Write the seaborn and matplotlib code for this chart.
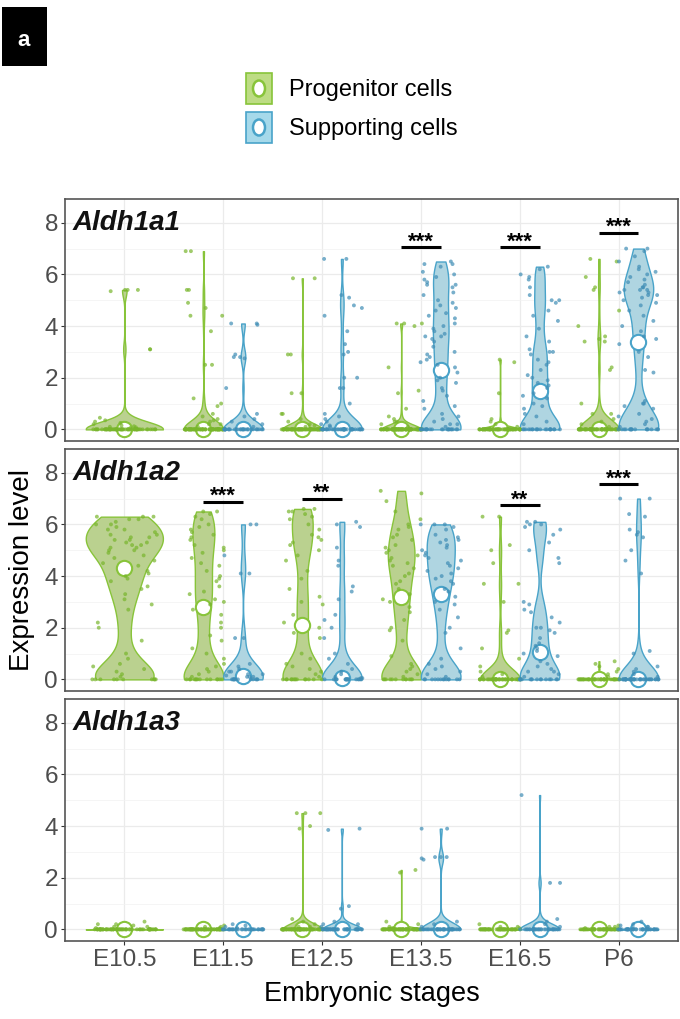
import numpy as np
import pandas as pd
import matplotlib.pyplot as plt
from matplotlib.patches import Rectangle, Ellipse
import seaborn as sns

sns.set_style("white")
plt.rcParams["font.family"] = ["Liberation Sans", "DejaVu Sans"]
plt.rcParams["text.color"] = "black"

stages = ["E10.5", "E11.5", "E12.5", "E13.5", "E16.5", "P6"]
genes = ["Aldh1a1", "Aldh1a2", "Aldh1a3"]
cells = ["Progenitor cells", "Supporting cells"]

# non-zero expression values per stage; zeros kept as counts
a1_prog = {
    "E10.5": [5.4, 5.4, 5.35, 5.4, 3.1, 3.1, 0.45, 0.35, 0.3, 0.25, 0.2, 0.15, 0.12, 0.1, 0.08, 0.05],
    "E11.5": [6.9, 6.9, 5.4, 5.4, 4.9, 4.7, 4.4, 4.4, 3.8, 2.5, 2.5, 1.2, 1.0, 0.9, 0.6, 0.5, 0.4, 0.35, 0.3, 0.2, 0.2, 0.1],
    "E12.5": [5.85, 5.85, 2.9, 2.9, 1.4, 1.4, 0.6, 0.6, 0.4, 0.3, 0.2, 0.15, 0.1],
    "E13.5": [4.1, 4.1, 4.0, 4.1, 2.4, 1.5, 1.4, 0.8, 0.5, 0.4, 0.3, 0.3, 0.2, 0.1],
    "E16.5": [2.7, 2.6, 1.4, 0.4, 0.3, 0.2, 0.1],
    "P6": [6.6, 6.5, 5.9, 5.5, 5.4, 4.6, 4.0, 3.6, 3.5, 3.4, 3.4, 2.4, 2.3, 1.0, 0.6, 0.6, 0.4, 0.3, 0.2, 0.1],
}
a1_prog_zeros = [60, 70, 70, 80, 60, 60]

a1_supp = {
    "E11.5": [4.1, 4.1, 4.05, 2.9, 2.8, 2.8, 2.75, 1.6, 0.6, 0.5, 0.4, 0.3, 0.2, 0.1],
    "E12.5": [6.6, 6.6, 5.2, 5.1, 4.8, 4.7, 4.4, 3.8, 3.3, 3.0, 2.9, 2.0, 2.0, 1.6, 1.6, 1.0, 0.6, 0.5, 0.4, 0.3, 0.2, 0.15, 0.1],
    "E13.5": [6.5, 6.4, 6.4, 6.3, 6.1, 6.0, 5.9, 5.8, 5.7, 5.6, 5.6, 5.5, 5.3, 5.2, 5.0, 4.9, 4.8, 4.7, 4.6, 4.5,
              4.4, 4.3, 4.1, 4.0, 3.9, 3.8, 3.7, 3.6, 3.6, 3.5, 3.4, 3.2, 3.0, 2.9, 2.8, 2.7, 2.6, 2.5, 2.4,
              2.2, 2.0, 1.9, 1.8, 1.6, 1.5, 1.3, 1.1, 0.9, 0.8, 0.6, 0.5, 0.4, 0.3, 0.2, 0.2, 0.1],
    "E16.5": [6.3, 6.2, 6.0, 5.9, 5.8, 5.5, 5.2, 5.0, 5.0, 4.9, 4.6, 4.4, 4.2, 3.9, 3.6, 3.4, 3.1, 3.0, 3.0, 2.9,
              2.7, 2.6, 2.5, 2.3, 2.1, 2.0, 1.9, 1.8, 1.7, 1.6, 1.4, 1.3, 1.2, 1.0, 0.9, 0.8, 0.6, 0.5, 0.3, 0.2],
    "P6": [7.0, 7.0, 6.9, 6.7, 6.5, 6.3, 6.2, 6.1, 6.0, 5.9, 5.8, 5.7, 5.6, 5.5, 5.5, 5.4, 5.4, 5.4, 5.3, 5.3,
           5.2, 5.2, 5.1, 5.0, 4.9, 4.8, 4.6, 4.4, 4.2, 4.0, 3.8, 3.6, 3.5, 3.3, 3.0, 2.8, 2.3, 2.2, 1.1, 1.0,
           1.0, 0.9, 0.8, 0.6, 0.5, 0.4, 0.3, 0.2, 0.1],
}
a1_supp_zeros = [0, 30, 40, 22, 20, 17]

a2_prog = {
    "E10.5": [6.3, 6.3, 6.3, 6.2, 6.2, 6.1, 6.0, 6.0, 5.9, 5.8, 5.8, 5.7, 5.6, 5.6, 5.5, 5.5, 5.4, 5.4, 5.3, 5.3,
              5.2, 5.2, 5.1, 5.1, 5.0, 5.0, 4.9, 4.8, 4.7, 4.6, 4.5, 4.4, 4.2, 4.1, 4.0, 3.9, 3.8, 3.6, 3.5, 3.3,
              3.1, 2.9, 2.7, 2.2, 2.0, 1.5, 1.0, 0.8, 0.6, 0.5, 0.4, 0.3, 0.2, 0.1],
    "E11.5": [6.5, 6.5, 6.4, 6.3, 6.2, 6.0, 5.9, 5.8, 5.7, 5.6, 5.5, 5.4, 5.2, 5.1, 5.0, 4.9, 4.7, 4.5, 4.4, 4.2,
              4.0, 3.9, 3.8, 3.6, 3.4, 3.3, 3.1, 3.0, 2.9, 2.7, 2.5, 2.2, 2.0, 1.7, 1.5, 1.2, 1.0, 0.8, 0.6, 0.5,
              0.4, 0.3, 0.2, 0.1],
    "E12.5": [6.6, 6.6, 6.5, 6.5, 6.4, 6.3, 6.2, 6.0, 5.8, 5.6, 5.5, 5.4, 5.3, 5.2, 5.0, 4.8, 4.6, 4.2, 3.9, 3.5,
              3.2, 3.0, 2.9, 2.5, 2.2, 2.0, 1.8, 1.6, 1.0, 0.8, 0.6, 0.5, 0.4, 0.3, 0.2, 0.1],
    "E13.5": [7.3, 7.2, 6.9, 6.5, 6.2, 6.0, 5.9, 5.8, 5.6, 5.5, 5.4, 5.2, 5.1, 5.0, 4.9, 4.8, 4.7, 4.6, 4.5, 4.4,
              4.3, 4.1, 4.0, 3.8, 3.7, 3.5, 3.3, 3.1, 3.0, 2.8, 2.6, 2.3, 2.0, 1.9, 1.5, 0.9, 0.6, 0.5, 0.4, 0.3,
              0.2, 0.1],
    "E16.5": [6.3, 6.3, 5.2, 5.0, 4.5, 3.7, 3.7, 3.0, 1.9, 1.8, 1.2, 0.8, 0.5, 0.3, 0.2, 0.1],
    "P6": [0.7, 0.6, 0.5, 0.4, 0.3, 0.2, 0.1],
}
a2_prog_zeros = [10, 14, 14, 12, 40, 40]

a2_supp = {
    "E11.5": [6.0, 6.0, 4.8, 4.1, 4.1, 1.6, 1.6, 0.6, 0.5, 0.4, 0.3, 0.3, 0.2, 0.2, 0.15, 0.1, 0.1, 0.1],
    "E12.5": [6.1, 6.0, 5.9, 5.1, 4.6, 4.4, 3.6, 3.4, 3.1, 2.5, 2.3, 2.0, 1.6, 1.0, 0.8, 0.6, 0.4, 0.3, 0.2, 0.1,
              0.05, 0.05],
    "E13.5": [6.0, 6.0, 6.0, 5.9, 5.8, 5.6, 5.5, 5.4, 5.4, 5.3, 5.2, 5.1, 5.0, 4.9, 4.8, 4.7, 4.6, 4.5, 4.4, 4.3,
              4.2, 4.1, 4.0, 3.9, 3.8, 3.7, 3.5, 3.4, 3.2, 3.0, 2.9, 2.7, 2.4, 2.0, 1.8, 1.2, 0.8, 0.6, 0.5, 0.4,
              0.3, 0.2, 0.1],
    "E16.5": [6.1, 6.1, 6.0, 6.0, 5.9, 5.8, 5.6, 5.3, 5.0, 4.7, 4.5, 3.0, 2.9, 2.7, 2.6, 2.4, 2.2, 2.0, 2.0, 1.9,
              1.8, 1.6, 1.4, 1.3, 1.2, 1.1, 1.0, 0.9, 0.7, 0.6, 0.5, 0.4, 0.3, 0.3, 0.2, 0.1],
    "P6": [7.0, 7.0, 6.4, 6.3, 5.8, 5.7, 5.6, 5.5, 5.0, 4.6, 4.1, 1.1, 1.0, 0.5, 0.4, 0.3, 0.2, 0.1],
}
a2_supp_zeros = [0, 12, 19, 13, 16, 40]

a3_prog = {
    "E10.5": [0.3, 0.2, 0.2, 0.15, 0.1, 0.1, 0.05],
    "E11.5": [0.15, 0.1, 0.1, 0.05],
    "E12.5": [4.5, 4.5, 4.5, 4.0, 3.9, 0.4, 0.3, 0.2, 0.1, 0.1],
    "E13.5": [2.3, 2.2, 0.3, 0.2, 0.1],
    "E16.5": [0.2, 0.1, 0.1, 0.05],
    "P6": [0.15, 0.1, 0.1, 0.05],
}
a3_prog_zeros = [60, 60, 70, 60, 50, 50]

a3_supp = {
    "E11.5": [0.2, 0.15, 0.1, 0.05],
    "E12.5": [3.9, 3.85, 0.9, 0.8, 0.3, 0.2, 0.2, 0.1],
    "E13.5": [3.9, 3.9, 2.8, 2.8, 2.75, 2.7, 2.8, 0.3, 0.2, 0.1],
    "E16.5": [5.2, 1.8, 1.8, 0.4, 0.3, 0.2, 0.1],
    "P6": [0.3, 0.2, 0.15, 0.1, 0.1, 0.05],
}
a3_supp_zeros = [0, 30, 40, 40, 35, 35]

# significance brackets
a1_sig_stages = ["E13.5", "E16.5", "P6"]
a1_sig_y = [7.07, 7.07, 7.62]
a1_sig_text = ["***", "***", "***"]
a2_sig_stages = ["E11.5", "E12.5", "E16.5", "P6"]
a2_sig_y = [6.88, 7.0, 6.75, 7.57]
a2_sig_text = ["***", "**", "**", "***"]

fills = {"Progenitor cells": "#bddc84", "Supporting cells": "#a6d9ea"}
edges = {"Progenitor cells": "#88c43a", "Supporting cells": "#49a3c9"}
dots = {"Progenitor cells": "#78b52c", "Supporting cells": "#3f8db5"}

rows = []
gene_sets = [("Aldh1a1", a1_prog, a1_prog_zeros, a1_supp, a1_supp_zeros),
             ("Aldh1a2", a2_prog, a2_prog_zeros, a2_supp, a2_supp_zeros),
             ("Aldh1a3", a3_prog, a3_prog_zeros, a3_supp, a3_supp_zeros)]
for gene, prog, pz, supp, sz in gene_sets:
    for i, st in enumerate(stages):
        for cell, vals, zs in [(cells[0], prog, pz), (cells[1], supp, sz)]:
            if st not in vals:
                continue
            for v in vals[st] + [0.0] * zs[i]:
                rows.append((gene, st, cell, v))
df = pd.DataFrame(rows, columns=["gene", "stage", "cell", "expr"])

np.random.seed(3)
fig = plt.figure(figsize=(6.8, 10.19), dpi=100)
axes = []
for k in range(3):
    top = 199 + 250 * k
    axes.append(fig.add_axes([65 / 680, 1 - (top + 242) / 1019, 613 / 680, 242 / 1019]))

vkw = dict(x="stage", y="expr", hue="cell", order=stages, hue_order=cells, palette=fills,
           cut=0, density_norm="width", inner=None, linewidth=1.0, bw_adjust=0.5, legend=False)
skw = dict(x="stage", y="expr", hue="cell", order=stages, hue_order=cells, palette=dots,
           size=2.8, alpha=0.7, linewidth=0, legend=False)
pkw = dict(x="stage", y="expr", hue="cell", order=stages, hue_order=cells, palette=edges,
           estimator="median", errorbar=None, markers="o", linestyles="none", markersize=11,
           markeredgewidth=1.5, markerfacecolor="white", legend=False)

for ax, gene in zip(axes, genes):
    d = df[df.gene == gene]
    first = d[d.stage == "E10.5"]
    rest = d[d.stage != "E10.5"]
    sns.violinplot(data=first, dodge=False, width=0.78, linecolor=edges[cells[0]], ax=ax, **vkw)
    for c in cells:
        sns.violinplot(data=rest[rest.cell == c], dodge=True, width=0.8, linecolor=edges[c], ax=ax, **vkw)
    sns.stripplot(data=first, dodge=False, jitter=0.33, ax=ax, **skw)
    sns.stripplot(data=rest, dodge=True, jitter=0.42, ax=ax, **skw)
    sns.pointplot(data=first, dodge=False, ax=ax, **pkw)
    sns.pointplot(data=rest, dodge=0.4, ax=ax, **pkw)

    ax.text(-0.52, 8.0, gene, fontsize=20, fontweight="bold", fontstyle="italic", ha="left", va="center",
            color="#111111")

    ax.set_xlim(-0.6, 5.6)
    ax.set_ylim(-0.45, 8.92)
    ax.set_yticks([0, 2, 4, 6, 8])
    ax.set_yticks([1, 3, 5, 7], minor=True)
    ax.set_xticks(range(len(stages)))
    ax.set_axisbelow(True)
    ax.grid(which="major", color="#ebebeb", linewidth=0.9)
    ax.grid(which="minor", axis="y", color="#f2f2f2", linewidth=0.5)
    ax.set_xlabel("")
    ax.set_ylabel("")
    for s in ax.spines.values():
        s.set_color("#555555")
        s.set_linewidth(1.2)
    ax.tick_params(axis="y", which="major", left=True, length=3, width=0.8, color="#333333",
                   labelsize=17.5, labelcolor="#4d4d4d", pad=2)
    ax.tick_params(axis="y", which="minor", left=False)
    ax.tick_params(axis="x", bottom=False, labelbottom=False)

for ax, sst, sy, stx in [(axes[0], a1_sig_stages, a1_sig_y, a1_sig_text),
                         (axes[1], a2_sig_stages, a2_sig_y, a2_sig_text)]:
    for st, y, t in zip(sst, sy, stx):
        i = stages.index(st)
        ax.plot([i - 0.2, i + 0.2], [y, y], color="black", linewidth=2.2, solid_capstyle="butt")
        ax.text(i, y - 0.02, t, ha="center", va="baseline", fontsize=16, fontweight="bold")

axes[2].tick_params(axis="x", bottom=True, labelbottom=True, length=3, width=0.8, color="#333333",
                    labelsize=17.5, labelcolor="#4d4d4d", pad=3)
axes[2].set_xticklabels(stages)

fig.text(0.032, 1 - 570 / 1019, "Expression level", rotation=90, fontsize=20, ha="center", va="center")
fig.text(371.5 / 680, 1 - 994 / 1019, "Embryonic stages", fontsize=19.5, ha="center", va="center")

# panel letter
fig.patches.append(Rectangle((2 / 680, 1 - 66 / 1019), 45 / 680, 59 / 1019, transform=fig.transFigure,
                             facecolor="black", edgecolor="none"))
fig.text(24 / 680, 1 - 40 / 1019, "a", color="white", fontsize=16, fontweight="bold", ha="center", va="center")

# legend keys
for j, c in enumerate(cells):
    y_top = 73 + 39 * j
    fig.patches.append(Rectangle((246 / 680, 1 - (y_top + 31) / 1019), 26 / 680, 31 / 1019,
                                 transform=fig.transFigure, facecolor=fills[c], edgecolor=edges[c], linewidth=1.2))
    fig.patches.append(Ellipse((259 / 680, 1 - (y_top + 15.5) / 1019), 12 / 680, 16 / 1019,
                               transform=fig.transFigure, facecolor="white", edgecolor=edges[c], linewidth=1.8))
    fig.text(289 / 680, 1 - (y_top + 17) / 1019, c, fontsize=17, ha="left", va="center")

fig.savefig("out.png", dpi=100)
